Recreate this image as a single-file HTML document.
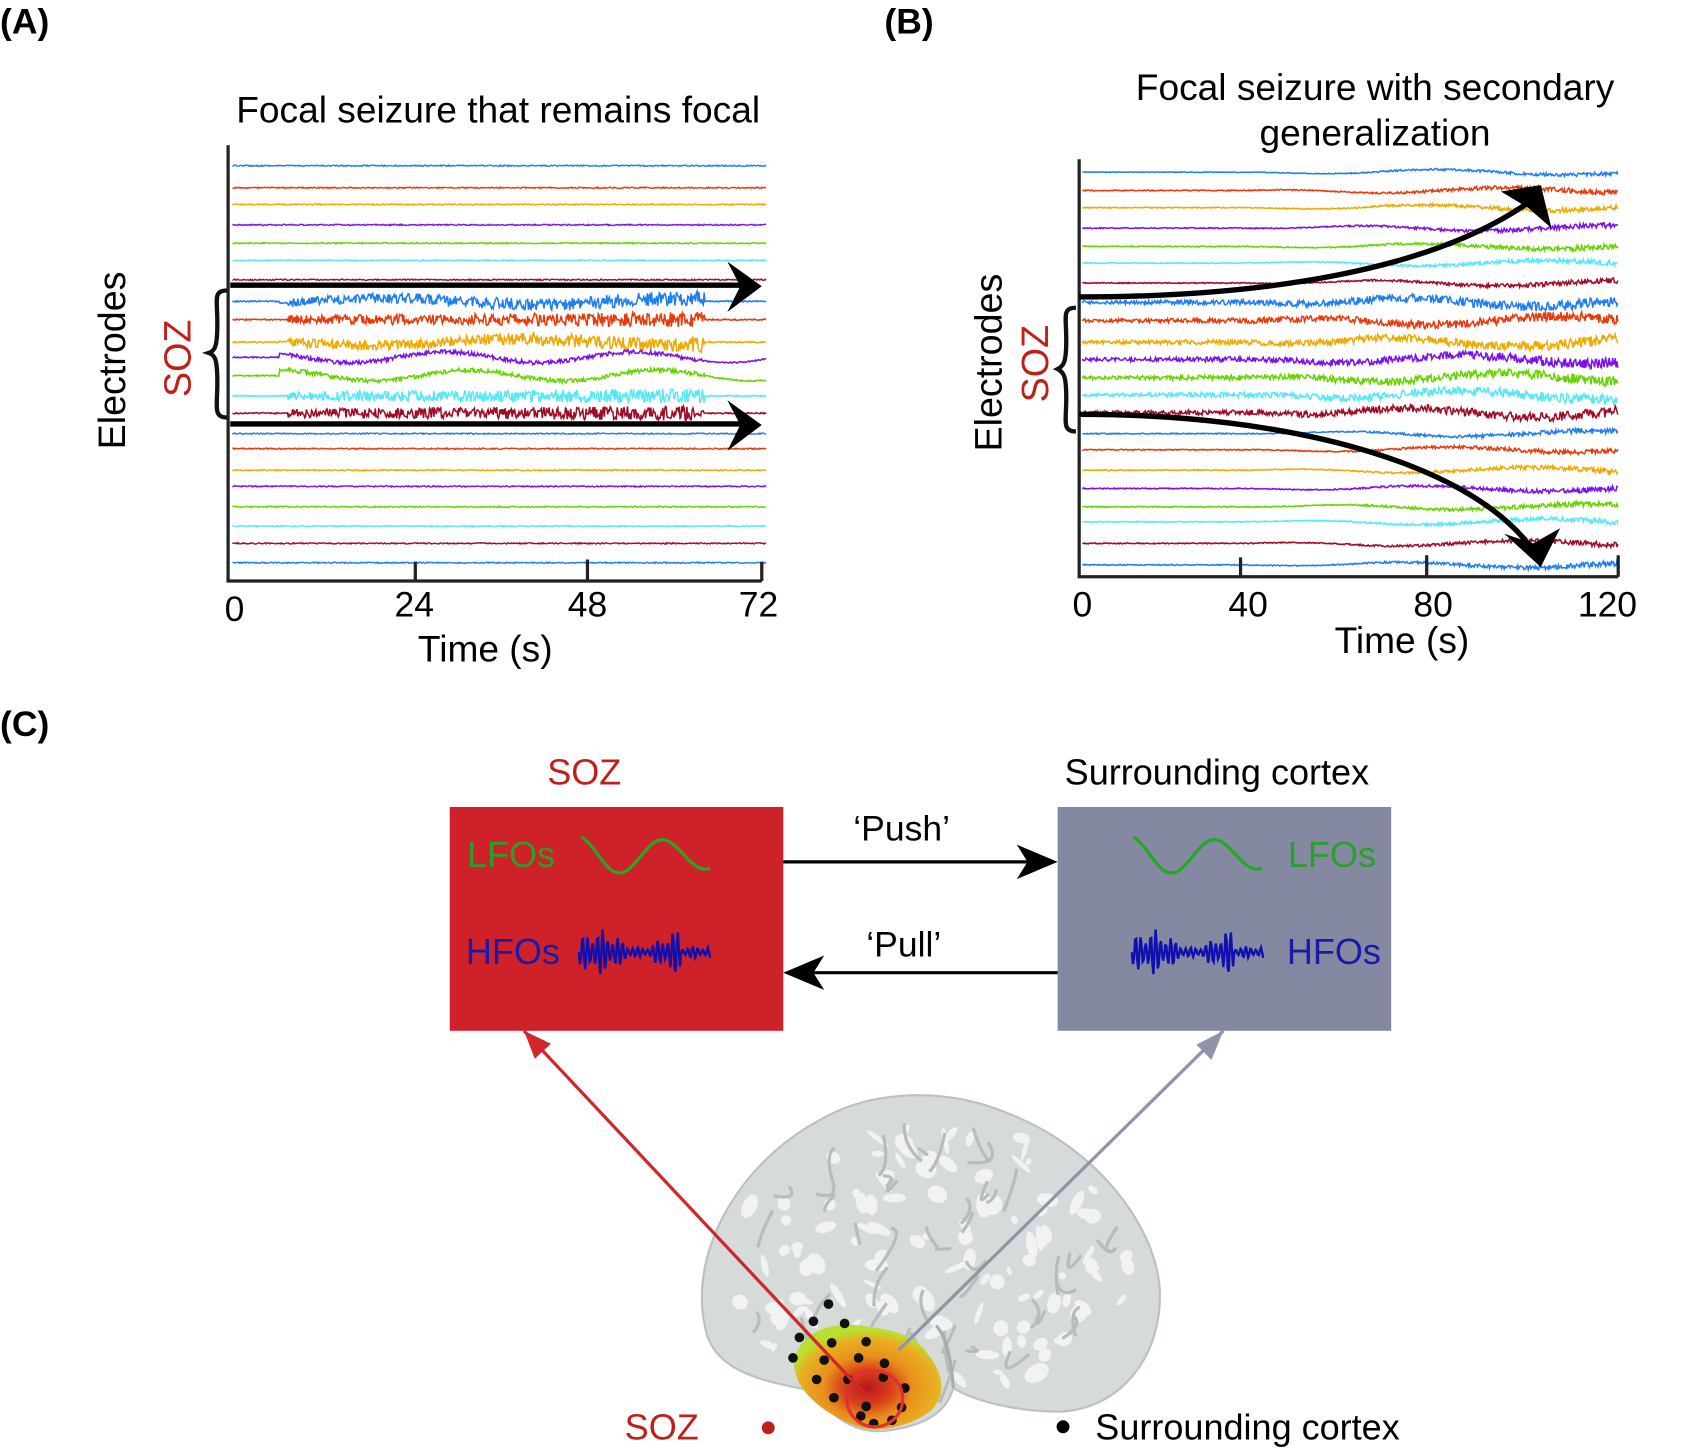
<!DOCTYPE html>
<html><head><meta charset="utf-8">
<style>
html,body{margin:0;padding:0;background:#fff;}
svg{display:block;}
text{font-family:"Liberation Sans",sans-serif;}
</style></head>
<body>
<svg id="s" width="1686" height="1450" viewBox="0 0 1567 1347.6" preserveAspectRatio="none" xmlns="http://www.w3.org/2000/svg">
<defs>
<radialGradient id="hot" cx="0.5" cy="0.6" r="0.55">
<stop offset="0" stop-color="#b81818"/>
<stop offset="0.3" stop-color="#d8401a"/>
<stop offset="0.55" stop-color="#e8901c"/>
<stop offset="0.85" stop-color="#e8b020"/>
<stop offset="1" stop-color="#b8e030"/>
</radialGradient>
</defs>
<text x="0" y="31" font-size="33" font-weight="bold">(A)</text>
<text x="822" y="31" font-size="33" font-weight="bold">(B)</text>
<text x="0" y="684" font-size="33" font-weight="bold">(C)</text>

<!-- Panel A -->
<text x="463" y="114" font-size="34.5" text-anchor="middle">Focal seizure that remains focal</text>
<g id="tracesA"></g>
<path d="M212 135 V540 H708" fill="none" stroke="#222" stroke-width="3"/>
<path d="M386 540 V522 M546 540 V520 M708 540 V522" stroke="#222" stroke-width="3"/>
<text x="218" y="577" font-size="33" text-anchor="middle">0</text>
<text x="385" y="573" font-size="33" text-anchor="middle">24</text>
<text x="546" y="573" font-size="33" text-anchor="middle">48</text>
<text x="705" y="573" font-size="33" text-anchor="middle">72</text>
<text x="451" y="615" font-size="34.5" text-anchor="middle">Time (s)</text>
<text transform="translate(116,335) rotate(-90)" font-size="35" text-anchor="middle">Electrodes</text>
<text transform="translate(177,333) rotate(-90)" font-size="35" text-anchor="middle" fill="#c0201a">SOZ</text>
<path d="M211 270 C198 270 202 278 202 300 C202 322 200 326 194 328 C200 330 202 334 202 356 C202 378 198 388 211 388" fill="none" stroke="#111" stroke-width="4"/>
<path d="M214 265 H690" stroke="#000" stroke-width="5"/>
<path d="M676 243 L708 266 L676 290 L688 266 Z" fill="#000"/>
<path d="M214 394 H690" stroke="#000" stroke-width="5"/>
<path d="M676 372 L708 395 L676 419 L688 395 Z" fill="#000"/>

<!-- Panel B -->
<text x="1278" y="93" font-size="34.5" text-anchor="middle">Focal seizure with secondary</text>
<text x="1278" y="135" font-size="34.5" text-anchor="middle">generalization</text>
<g id="tracesB"></g>
<path d="M1003 148 V536 H1504" fill="none" stroke="#222" stroke-width="3"/>
<path d="M1153 536 V518 M1326 536 V516 M1504 536 V516" stroke="#222" stroke-width="3"/>
<text x="1006" y="573" font-size="33" text-anchor="middle">0</text>
<text x="1160" y="573" font-size="33" text-anchor="middle">40</text>
<text x="1332" y="573" font-size="33" text-anchor="middle">80</text>
<text x="1494" y="573" font-size="33" text-anchor="middle">120</text>
<text x="1303" y="607" font-size="34.5" text-anchor="middle">Time (s)</text>
<text transform="translate(931,337) rotate(-90)" font-size="35" text-anchor="middle">Electrodes</text>
<text transform="translate(974,338) rotate(-90)" font-size="35" text-anchor="middle" fill="#c0201a">SOZ</text>
<path d="M1000 286 C987 286 991 294 991 316 C991 336 989 340 983 343 C989 346 991 350 991 370 C991 392 987 401 1000 401" fill="none" stroke="#111" stroke-width="4"/>
<path d="M1003 276 C1180 276 1330 250 1418 190" fill="none" stroke="#000" stroke-width="5"/>
<path d="M1395 178 L1432 172 L1442 212 L1420 193 Z" fill="#000"/>
<path d="M1003 385 C1200 385 1360 430 1420 505" fill="none" stroke="#000" stroke-width="5"/>
<path d="M1398 496 L1432 527 L1450 491 L1425 505 Z" fill="#000"/>

<!-- Panel C -->
<text x="543" y="729" font-size="33.5" text-anchor="middle" fill="#c0201a">SOZ</text>
<text x="1131" y="729" font-size="33.5" text-anchor="middle">Surrounding cortex</text>
<rect x="418" y="750" width="310" height="208" fill="#cf2129"/>
<rect x="983" y="750" width="310" height="208" fill="#8489a1"/>
<text x="434" y="806" font-size="33.5" fill="#2aa02a">LFOs</text>
<text x="433" y="896" font-size="33.5" fill="#1a1aaa">HFOs</text>
<text x="1197" y="806" font-size="33.5" fill="#2aa02a">LFOs</text>
<text x="1196" y="896" font-size="33.5" fill="#1a1aaa">HFOs</text>
<g id="waves"></g>
<path d="M728 801 H960" stroke="#000" stroke-width="3"/>
<path d="M945 785 L983 801 L945 817 L955 801 Z" fill="#000"/>
<text x="838" y="781" font-size="33" text-anchor="middle">‘Push’</text>
<path d="M983 904 H752" stroke="#000" stroke-width="3"/>
<path d="M766 888 L728 904 L766 920 L756 904 Z" fill="#000"/>
<text x="840" y="889" font-size="33" text-anchor="middle">‘Pull’</text>

<!-- brain -->
<path d="M655 1232 C640 1160 690 1080 760 1042 C810 1012 880 1010 940 1036 C1020 1068 1075 1140 1078 1200 C1080 1262 1040 1310 985 1312 C945 1312 905 1302 886 1290 C880 1312 860 1326 820 1330 C790 1332 770 1312 752 1292 C700 1282 662 1272 655 1232 Z" fill="#d6dad9" stroke="#bcc1bf" stroke-width="2"/>
<g id="blot" fill="#f4f6f5" opacity="0.9"></g>
<path d="M886 1290 C884 1260 878 1240 870 1232" fill="none" stroke="#a8adab" stroke-width="3"/>
<path d="M738 1268 C740 1240 770 1228 800 1232 C830 1236 850 1240 862 1258 C880 1280 878 1300 864 1312 C845 1326 815 1332 798 1326 C770 1316 740 1296 738 1268 Z" fill="url(#hot)"/>
<g id="dots" fill="#111"></g>
<circle cx="813" cy="1300" r="26" fill="none" stroke="#e03030" stroke-width="3"/>
<path d="M808 1300 L487 958" stroke="#d0282a" stroke-width="3"/>
<path d="M487 958 L512 970 L497 984 Z" fill="#d0282a"/>
<path d="M835 1255 L1137 958" stroke="#9094aa" stroke-width="3"/>
<path d="M1137 958 L1126 985 L1112 971 Z" fill="#9094aa"/>
<text x="615" y="1338" font-size="33.5" text-anchor="middle" fill="#c0201a">SOZ</text>
<circle cx="714" cy="1327" r="6" fill="#c0201a"/>
<circle cx="988" cy="1326" r="6" fill="#000"/>
<text x="1018" y="1338" font-size="33.5">Surrounding cortex</text>
</svg>
<script>
(function(){
var seed=12345;function r(){seed=(seed*16807)%2147483647;return seed/2147483647;}
var cols=["#1f7ef0","#e83a0a","#eeaa00","#7a10f0","#66d400","#55e8f8","#a00c26"];
var NS="http://www.w3.org/2000/svg";
function add(g,d,c,w){var p=document.createElementNS(NS,"path");p.setAttribute("d",d);p.setAttribute("stroke",c);p.setAttribute("stroke-width",w);p.setAttribute("fill","none");g.appendChild(p);}
var ya=[154,174.5,190,209,226,242,260,280,297,318,332,349,368,384,403,417,437,452,471,489,505,523];
var gA=document.getElementById("tracesA");
ya.forEach(function(y,i){
 var soz=(i>=7&&i<=13);var c=cols[i%7];var d="";
 var ph=r()*6;
 for(var x=216;x<=712;x+=0.8){
  var a=0.6;
  if(soz&&x>268&&x<655){a=(i==10||i==11)?2:4+3*(x-268)/387;}
  var slow=0;
  if(soz&&(i==10||i==11)&&x>260) slow=5*Math.sin(x/28+ph);
  if(soz&&(i==7||i==9)&&x>260&&x<655) slow=3*Math.sin(x/45+ph);
  var yy=y+slow+(r()-0.5)*2*a;
  d+=(d?"L":"M")+x.toFixed(1)+" "+yy.toFixed(1);
 }
 add(gA,d,c,soz?1.4:1.3);
});
var yb=[160,177,193,212,229,244.5,263,281,298,318,334,351,367,383.5,403,418,437,454,471,485,505,525];
var gB=document.getElementById("tracesB");
yb.forEach(function(y,i){
 var soz=(i>=7&&i<=13);var c=cols[i%7];var d="";var ph=r()*6;
 for(var x=1006;x<=1504;x+=0.8){
  var t=(x-1006)/498;
  var a=soz?(1.5+3.5*t):(0.5+ (t>0.45?4*(t-0.45):0));
  if(i==0) a*=0.7;
  var slow=(t>0.3)?(soz?4:2.5)*Math.sin(x/38+ph)*Math.min(1,(t-0.3)*4):0;
  var yy=y+slow+(r()-0.5)*2*a;
  d+=(d?"L":"M")+x.toFixed(1)+" "+yy.toFixed(1);
 }
 add(gB,d,c,1.4);
});
var gw=document.getElementById("waves");
function lfo(x0){var d="";for(var x=0;x<=120;x+=2){var y=795-18*Math.cos((x/120)*2*Math.PI*1.5+0.3)*(1-x/400);d+=(d?"L":"M")+(x0+x)+" "+y.toFixed(1);}return d;}
add(gw,lfo(540),"#22aa22",3);add(gw,lfo(1053),"#22aa22",3);
function hfo(x0){var d="";for(var x=0;x<=122;x+=1){var env=x<95?(0.6+0.4*Math.sin(x/12)):0.25;var y=885+22*env*Math.sin(x*1.35)*(0.7+0.3*Math.sin(x*0.37));d+=(d?"L":"M")+(x0+x)+" "+y.toFixed(1);}return d;}
add(gw,hfo(538),"#1010b0",2.2);add(gw,hfo(1052),"#1010b0",2.2);
var gb=document.getElementById("blot");
for(var k=0;k<160;k++){var cx=670+r()*400,cy=1040+r()*270;
 var dx=(cx-860)/210,dy=(cy-1170)/140;if(dx*dx+dy*dy>0.85)continue;
 var e=document.createElementNS(NS,"ellipse");e.setAttribute("cx",cx);e.setAttribute("cy",cy);e.setAttribute("rx",3+r()*10);e.setAttribute("ry",2+r()*6);e.setAttribute("transform","rotate("+(r()*180)+" "+cx+" "+cy+")");gb.appendChild(e);}
for(var k=0;k<80;k++){var cx=670+r()*400,cy=1040+r()*270;
 var dx=(cx-860)/210,dy=(cy-1170)/140;if(dx*dx+dy*dy>0.85)continue;
 var e=document.createElementNS(NS,"path");e.setAttribute("d","M"+cx+" "+cy+" q"+(r()*30-15)+" "+(r()*30)+" "+(r()*40-20)+" "+(r()*40));e.setAttribute("stroke","#b8bdbb");e.setAttribute("stroke-width","3");e.setAttribute("fill","none");gb.parentNode.insertBefore(e,gb.nextSibling);}
var gd=document.getElementById("dots");
var pts=[[770,1212],[756,1228],[785,1230],[743,1243],[773,1248],[805,1247],[737,1262],[766,1264],[798,1262],[822,1267],[759,1282],[788,1282],[821,1280],[841,1290],[775,1299],[838,1308],[805,1307],[829,1320],[812,1323],[800,1316]];
pts.forEach(function(p){var c=document.createElementNS(NS,"circle");c.setAttribute("cx",p[0]);c.setAttribute("cy",p[1]);c.setAttribute("r",4.5);gd.appendChild(c);});
})();
</script>
</body></html>
